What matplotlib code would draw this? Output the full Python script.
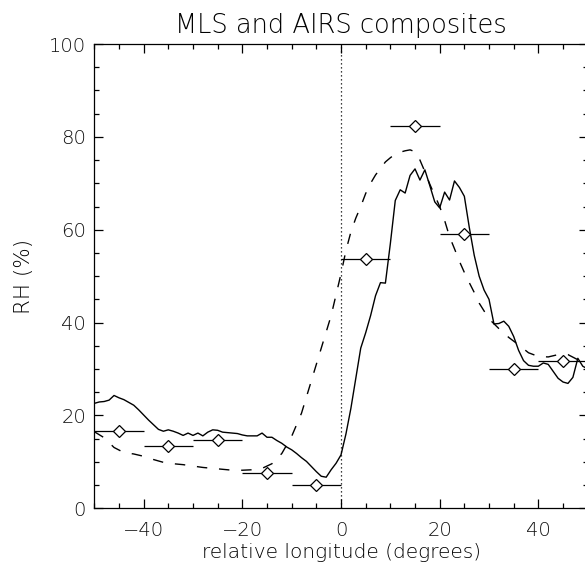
import matplotlib
matplotlib.use("Agg")
import matplotlib.pyplot as plt
from matplotlib.ticker import MultipleLocator

# ---- data ----
# solid curve (AIRS composite)
airs_lon = [-50, -49, -48, -47, -46, -45, -44, -43, -42, -41, -40, -39, -38, -37, -36,
            -35, -34, -33, -32, -31, -30, -29, -28, -27, -26, -25, -24, -23, -22, -21,
            -20, -19, -18, -17, -16, -15, -14, -13, -12, -11, -10, -9, -8, -7, -6,
            -5, -4, -3, -2, -1, 0, 1, 2, 3, 4, 5, 6, 7, 8, 9,
            10, 11, 12, 13, 14, 15, 16, 17, 18, 19, 20, 21, 22, 23, 24,
            25, 26, 27, 28, 29, 30, 31, 32, 33, 34, 35, 36, 37, 38, 39,
            40, 41, 42, 43, 44, 45, 46, 47, 48, 49, 50]
airs_rh = [22.6, 22.9, 23.0, 23.3, 24.3, 23.8, 23.4, 22.8, 22.2, 21.2, 20.1, 19.0, 18.0, 17.0, 16.6,
           16.9, 16.6, 16.2, 15.7, 16.2, 15.7, 16.2, 15.6, 16.4, 16.9, 16.8, 16.4, 16.3, 16.2, 16.1,
           15.8, 15.6, 15.6, 15.6, 16.2, 15.3, 15.3, 14.6, 14.0, 13.2, 12.6, 11.8, 10.9, 10.1, 9.0,
           7.9, 6.9, 6.7, 8.3, 9.7, 11.5, 16.0, 21.5, 28.0, 34.5, 37.8, 41.5, 45.8, 48.6, 48.5,
           57.0, 66.3, 68.6, 67.9, 71.7, 73.1, 70.7, 72.9, 69.5, 66.0, 64.7, 68.1, 66.4, 70.5, 69.1,
           67.2, 60.5, 54.5, 50.0, 47.0, 45.0, 39.7, 39.8, 40.3, 39.2, 37.0, 34.0, 31.8, 30.8, 30.6,
           30.6, 31.3, 31.0, 29.5, 28.0, 27.2, 26.9, 28.2, 32.3, 30.6, 30.0]

# dashed curve
dash_lon = [-50, -48, -46, -44, -42, -40, -38, -36, -34, -32, -30, -28, -26, -24, -22,
            -20, -18, -16, -14, -12, -10, -8, -6, -4, -2, 0, 1, 2, 3, 4,
            5, 6, 7, 8, 9, 10, 11, 12, 13, 14, 15, 16, 17, 18, 19,
            20, 21, 22, 23, 24, 25, 26, 27, 28, 29, 30, 32, 34, 36, 38,
            40, 42, 44, 46, 48, 50]
dash_rh = [16.5, 15.2, 13.1, 12.0, 11.7, 11.2, 10.5, 9.9, 9.6, 9.4, 9.1, 8.8, 8.6, 8.4, 8.2,
           8.2, 8.3, 8.6, 9.6, 11.8, 15.5, 20.5, 27.5, 34.5, 41.5, 50.5, 55.5, 59.5, 62.5, 65.0,
           67.8, 70.0, 71.8, 73.2, 74.6, 75.5, 76.3, 76.7, 77.0, 77.2, 76.8, 75.0, 72.5, 69.8, 67.4,
           65.0, 62.0, 58.5, 55.9, 53.2, 50.8, 48.6, 46.5, 44.2, 42.5, 40.8, 38.7, 36.8, 35.2, 33.5,
           32.7, 32.6, 33.1, 33.1, 32.0, 31.3]

# MLS bin means (diamonds) with 10-degree bins
mls_lon = [-45, -35, -25, -15, -5, 5, 15, 25, 35, 45]
mls_rh = [16.7, 13.4, 14.7, 7.5, 5.1, 53.8, 82.4, 59.1, 30.1, 31.7]
mls_halfwidth = [5, 5, 5, 5, 5, 5, 5, 5, 5, 5]

xticks = [-40, -20, 0, 20, 40]
yticks = [0, 20, 40, 60, 80, 100]

plt.rcParams['font.family'] = ['DejaVu Sans']
plt.rcParams['font.weight'] = 'light'

fig = plt.figure(figsize=(5.85, 5.70), dpi=100)
ax = fig.add_axes([94.3 / 585, 1 - 508.3 / 570, 493.4 / 585, 464.3 / 570])

ax.plot(airs_lon, airs_rh, color='black', lw=1.0, zorder=3)
ax.plot(dash_lon, dash_rh, color='black', lw=1.0, dashes=(7.5, 8.5), zorder=3)
ax.axvline(0, color='black', lw=0.9, dashes=(1.0, 2.2), zorder=2)
ax.errorbar(mls_lon, mls_rh, xerr=mls_halfwidth, fmt='D', ms=6.2,
            mfc='white', mec='black', mew=0.9, ecolor='black', elinewidth=0.9,
            capsize=0, zorder=4)

ax.set_xlim(-50, 50)
ax.set_ylim(0, 100)
ax.set_xticks(xticks)
ax.set_yticks(yticks)
ax.xaxis.set_minor_locator(MultipleLocator(5))
ax.yaxis.set_minor_locator(MultipleLocator(5))
ax.tick_params(which='both', direction='in', top=True, right=True, width=0.9,
               labelsize=14, labelcolor='#111111')
ax.tick_params(which='major', length=6.5)
ax.tick_params(which='minor', length=3.5)
ax.tick_params(axis='x', which='major', pad=9)
ax.tick_params(axis='y', which='major', pad=6)
for s in ax.spines.values():
    s.set_linewidth(0.9)

ax.set_title('MLS and AIRS composites', fontsize=18.5, pad=8, fontweight='light')
ax.set_xlabel('relative longitude (degrees)', fontsize=14.5, labelpad=2, fontweight='light')
ax.set_ylabel('RH (%)', fontsize=15.5, fontweight='light')
ax.yaxis.set_label_coords(-0.122, 0.5)

fig.savefig('out.png', dpi=100)
